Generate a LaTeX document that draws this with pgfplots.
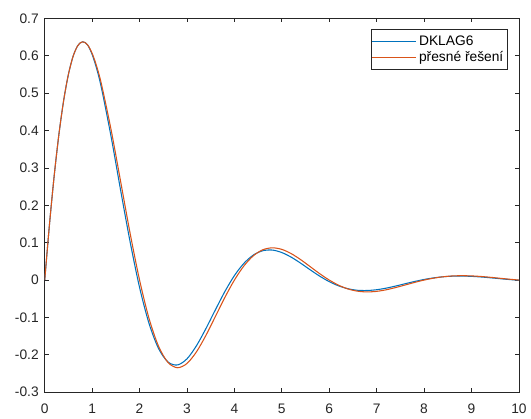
\documentclass[border=0pt]{standalone}
\usepackage{pgfplots}
\pgfplotsset{compat=1.18}
\usepackage{fontspec}
\setmainfont{Liberation Sans}
\definecolor{mblue}{rgb}{0,0.447,0.741}
\definecolor{morange}{rgb}{0.85,0.325,0.098}
\definecolor{axgray}{rgb}{0.15,0.15,0.15}
\begin{document}
\begin{tikzpicture}
\begin{axis}[
  scale only axis,
  width=357.75pt, height=282pt,
  xmin=0, xmax=10, ymin=-0.3, ymax=0.7,
  xtick={0,1,...,10},
  ytick={-0.3,-0.2,-0.1,0,0.1,0.2,0.3,0.4,0.5,0.6,0.7},
  yticklabels={-0.3,-0.2,-0.1,0,0.1,0.2,0.3,0.4,0.5,0.6,0.7},
  tick align=inside,
  major tick length=3pt,
  tick style={axgray, line width=0.5pt},
  axis line style={axgray, line width=0.6pt},
  /pgf/number format/assume math mode=true,
  tick label style={font=\fontsize{10.4}{12}\selectfont, text=axgray},
  every x tick label/.append style={yshift=-5.5pt},
  every y tick label/.append style={xshift=-1pt},
  legend cell align=left,
  legend style={at={(1,1)}, anchor=north east, xshift=-8.5pt, yshift=-8.6pt,
    line width=0.5pt, font=\fontsize{10.4}{12}\selectfont,
    inner xsep=1pt, inner ysep=2pt, row sep=-0.5pt,
    draw=none},
  legend image code/.code={\draw[#1] (0pt,0pt) -- (33pt,0pt);},
]
\addplot[color=mblue, line width=0.8pt, smooth] coordinates {
(0,0) (0.1,0.1488) (0.2,0.2796) (0.3,0.3908) (0.4,0.4812) (0.5,0.5507) (0.6,0.5993)
(0.7,0.6279) (0.8,0.6375) (0.9,0.6298) (1.0,0.6035) (1.1,0.5635) (1.2,0.5114)
(1.4,0.3833) (1.6,0.2406) (1.8,0.1026) (2.0,-0.0198) (2.2,-0.1162) (2.4,-0.1830)
(2.6,-0.2193) (2.8,-0.2271) (3.0,-0.2107) (3.2,-0.1756) (3.4,-0.1296) (3.6,-0.0793)
(3.8,-0.0304) (4.0,0.0120) (4.2,0.0447) (4.4,0.0670) (4.6,0.0785) (4.8,0.0803)
(5.0,0.0736) (5.2,0.0611) (5.4,0.0449) (5.6,0.0273) (5.8,0.0104) (6.0,-0.0042)
(6.2,-0.0156) (6.4,-0.0233) (6.6,-0.0274) (6.8,-0.0279) (7.0,-0.0258) (7.2,-0.0216)
(7.4,-0.0160) (7.6,-0.0098) (7.8,-0.0038) (8.0,0.0016) (8.2,0.0058) (8.4,0.0088)
(8.6,0.0104) (8.8,0.0107) (9.0,0.0099) (9.2,0.0083) (9.4,0.0061) (9.6,0.0037)
(9.8,0.0014) (10,-0.0006)
};
\addlegendentry{DKLAG6}
\addplot[color=morange, line width=0.8pt, smooth] coordinates {
(0,0) (0.1,0.1488) (0.2,0.2796) (0.3,0.3908) (0.4,0.4812) (0.5,0.5507) (0.6,0.5993)
(0.7,0.6279) (0.8,0.6375) (0.9,0.6298) (1.0,0.6065) (1.1,0.5699) (1.2,0.5220)
(1.4,0.4018) (1.6,0.2641) (1.8,0.1256) (2.0,0) (2.2,-0.1029) (2.4,-0.1770)
(2.6,-0.2205) (2.8,-0.2345) (3.0,-0.2231) (3.2,-0.1920) (3.4,-0.1478) (3.6,-0.0972)
(3.8,-0.0462) (4.0,0) (4.2,0.0378) (4.4,0.0651) (4.6,0.0811) (4.8,0.0863)
(5.0,0.0821) (5.2,0.0706) (5.4,0.0544) (5.6,0.0357) (5.8,0.0170) (6.0,0)
(6.2,-0.0139) (6.4,-0.0240) (6.6,-0.0298) (6.8,-0.0317) (7.0,-0.0302) (7.2,-0.0260)
(7.4,-0.0200) (7.6,-0.0132) (7.8,-0.0063) (8.0,0) (8.2,0.0051) (8.4,0.0088)
(8.6,0.0110) (8.8,0.0117) (9.0,0.0111) (9.2,0.0096) (9.4,0.0074) (9.6,0.0048)
(9.8,0.0023) (10,0)
};
\addlegendentry{přesné řešení}
\coordinate (sw) at (rel axis cs:0,0);
\coordinate (ne) at (rel axis cs:1,1);
\coordinate (lg) at ([shift={(-8.5pt,-8.6pt)}]rel axis cs:1,1);
\end{axis}
\draw[axgray, line width=0.5pt] (lg) rectangle ++(-102.75pt,-29.5pt);
\path ([shift={(-33.75pt,-20pt)}]sw) rectangle ([shift={(6.75pt,13.9pt)}]ne);
\end{tikzpicture}
\end{document}
